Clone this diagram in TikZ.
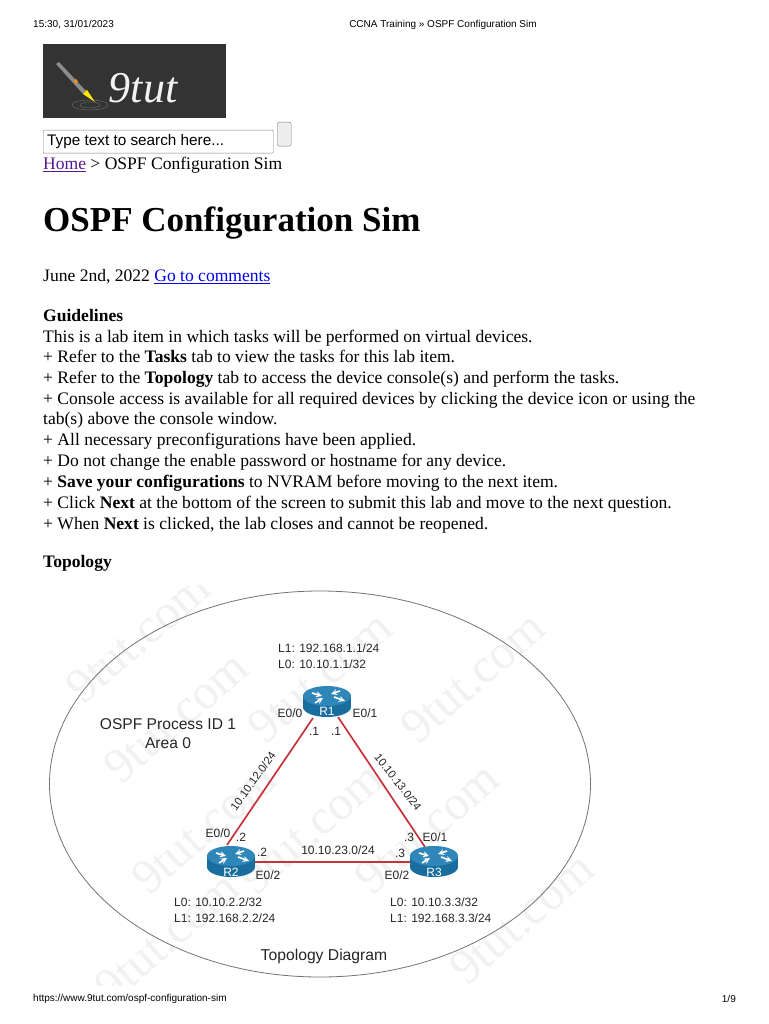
\documentclass[tikz,border=0pt]{standalone}
\usepackage{fontspec}
\setmainfont{Liberation Serif}
\newfontfamily\hdrfont{Liberation Sans}
\usetikzlibrary{shapes.geometric}
\definecolor{linkblue}{HTML}{0000EE}
\definecolor{linkpurple}{HTML}{551A8B}
\definecolor{routerblue}{HTML}{1A6E9E}
\definecolor{routertop}{HTML}{2F86B8}
\definecolor{linkred}{HTML}{C5333C}
\definecolor{logodark}{HTML}{333333}
\definecolor{markgray}{HTML}{F1F1F1}
\tikzset{
bodyline/.style={anchor=west, inner sep=0pt, text height=16.4pt, text depth=3.5pt, font=\fontsize{17.55}{20}\selectfont},
pagehdr/.style={inner sep=0pt, font=\hdrfont\fontsize{10}{12}\selectfont},
netlabel/.style={inner sep=0pt, align=left, font=\hdrfont\fontsize{12}{15.5}\selectfont, text=black!85},
portlabel/.style={inner sep=0pt, font=\hdrfont\fontsize{12}{14}\selectfont, text=black!85},
watermark/.style={inner sep=0pt, rotate=41, text=markgray, font=\fontsize{49}{52}\selectfont},
routerbox/.style={draw=none, inner sep=0pt, minimum width=48pt, minimum height=32pt},
routername/.style={inner sep=0pt, text=white, font=\hdrfont\fontsize{12}{14}\selectfont},
netline/.style={draw=linkred, line width=1.7pt},
routerflow/.style={white, line width=1.7pt, -stealth},
routericon/.pic={
  \fill[routerblue] (0,5) ellipse (24 and 10);
  \fill[routerblue] (-24,-6) rectangle (24,5);
  \fill[routertop] (0,-6) ellipse (24 and 10);
  \draw[routerflow] (-15,-9) -- (-5,-6);
  \draw[routerflow] (13,-11) -- (4,-8);
  \draw[routerflow] (-12,1) -- (-4,-4);
  \draw[routerflow] (7,-5) -- (18,-1);
}
}
\begin{document}
\begin{tikzpicture}[x=1pt, y=-1pt]
\useasboundingbox (0,0) rectangle (768,1024);
\fill[white] (0,0) rectangle (768,1024);

% page header and footer
\node (stamp) [pagehdr, anchor=west] at (33,25) {15:30, 31/01/2023};
\node (pagetitle) [pagehdr] at (443,25) {CCNA Training » OSPF Configuration Sim};
\node (pageurl) [pagehdr, anchor=west] at (33,999) {https://www.9tut.com/ospf-configuration-sim};
\node (pagenum) [pagehdr, anchor=east] at (736,999) {1/9};

% logo
\node (logo) [fill=logodark, minimum width=183pt, minimum height=74pt, inner sep=0pt, anchor=north west] at (43,44) {};
\draw[black!60, line width=0.5pt] (90,105) ellipse (18 and 5);
\draw[black!60, line width=0.5pt] (90,105) ellipse (10 and 3);
\fill[black!45] (56,64) -- (59,62) -- (86,91) -- (83,94) -- cycle;
\fill[orange!85!yellow] (74,81) -- (76,79) -- (78,81.5) -- (76,83.5) -- cycle;
\fill[yellow!90!orange] (83,94) -- (87,90) -- (95,102) -- cycle;
\node (logotext) [text=white!90!gray, inner sep=0pt, font=\itshape\fontsize{44}{46}\selectfont] at (143,88) {9tut};

% search
\node (search) [draw=gray, rounded corners=1pt, minimum width=230pt, minimum height=23pt, inner sep=0pt, anchor=north west] at (43,130) {};
\node (searchtext) [inner sep=0pt, anchor=west, font=\hdrfont\fontsize{15.3}{17}\selectfont] at (47,142) {Type text to search here...};
\node (searchbtn) [draw=gray, fill=black!7, rounded corners=2pt, minimum width=14pt, minimum height=24pt, inner sep=0pt, anchor=north west] at (277,122) {};

% text
\node (crumb) [bodyline] at (43,163) {\textcolor{linkpurple}{\underline{Home}} > OSPF Configuration Sim};
\node (heading) [anchor=west, inner sep=0pt, font=\bfseries\fontsize{35}{38}\selectfont] at (43,223) {OSPF Configuration Sim};
\node (date) [bodyline] at (43,275) {June 2nd, 2022 \textcolor{linkblue}{\underline{Go to comments}}};
\node (guide) [bodyline] at (43,315) {\textbf{Guidelines}};
\node (line1) [bodyline] at (43,336) {This is a lab item in which tasks will be performed on virtual devices.};
\node (line2) [bodyline] at (43,356.5) {+ Refer to the \textbf{Tasks} tab to view the tasks for this lab item.};
\node (line3) [bodyline] at (43,377) {+ Refer to the \textbf{Topology} tab to access the device console(s) and perform the tasks.};
\node (line4) [bodyline] at (43,398) {+ Console access is available for all required devices by clicking the device icon or using the};
\node (line5) [bodyline] at (43,418.5) {tab(s) above the console window.};
\node (line6) [bodyline] at (43,439) {+ All necessary preconfigurations have been applied.};
\node (line7) [bodyline] at (43,460) {+ Do not change the enable password or hostname for any device.};
\node (line8) [bodyline] at (43,481) {+ \textbf{Save your configurations} to NVRAM before moving to the next item.};
\node (line9) [bodyline] at (43,502) {+ Click \textbf{Next} at the bottom of the screen to submit this lab and move to the next question.};
\node (line10) [bodyline] at (43,523) {+ When \textbf{Next} is clicked, the lab closes and cannot be reopened.};
\node (topo) [bodyline] at (43,561) {\textbf{Topology}};

% watermarks
\begin{scope}
\clip (40,585) rectangle (600,985);
\foreach \wx/\wy in {138/637, 176/717, 320/677, 473/677, 204/828, 311/828, 427/828, 522/918, 167/937} {
  \node [watermark] at (\wx,\wy) {9tut.com};
}
\end{scope}

% area
\node (area) [draw=black!55, ellipse, line width=0.8pt, minimum width=541pt, minimum height=386pt, inner sep=0pt] at (320,784) {};
\node (ospf) [inner sep=0pt, align=center, font=\hdrfont\fontsize{15.6}{19}\selectfont, text=black!85] at (168,734) {OSPF Process ID 1\\Area 0};
\node (caption) [inner sep=0pt, font=\hdrfont\fontsize{15.7}{18}\selectfont, text=black!85] at (324,956) {Topology Diagram};

% routers
\node (r1) [routerbox] at (327,702) {};
\node (r2) [routerbox] at (231,862) {};
\node (r3) [routerbox] at (434,862) {};

\draw[netline] ([shift={(-14,16)}]r1.center) -- ([shift={(-4,-17)}]r2.center);
\draw[netline] ([shift={(11,15)}]r1.center) -- ([shift={(-9,-15)}]r3.center);
\draw[netline] (r2) -- (r3);

\pic at (r1.center) {routericon};
\pic at (r2.center) {routericon};
\pic at (r3.center) {routericon};
\node (r1name) [routername] at (327,711) {R1};
\node (r2name) [routername] at (231,872) {R2};
\node (r3name) [routername] at (434,872) {R3};

% router labels
\node (r1addr) [netlabel, anchor=west] at (278,656) {L1: 192.168.1.1/24\\L0: 10.10.1.1/32};
\node (r2addr) [netlabel, anchor=west] at (174,910) {L0: 10.10.2.2/32\\L1: 192.168.2.2/24};
\node (r3addr) [netlabel, anchor=west] at (390,910) {L0: 10.10.3.3/32\\L1: 192.168.3.3/24};

\node (net12) [portlabel, rotate=54, font=\hdrfont\fontsize{11.2}{14}\selectfont] at (253,781) {10.10.12.0/24};
\node (net13) [portlabel, rotate=-52, font=\hdrfont\fontsize{11.2}{14}\selectfont] at (398,782) {10.10.13.0/24};
\node (net23) [portlabel] at (338,850) {10.10.23.0/24};

\node (r1e0) [portlabel] at (290,713) {E0/0};
\node (r1e1) [portlabel] at (365,713) {E0/1};
\node (r1d0) [portlabel] at (314,731) {.1};
\node (r1d1) [portlabel] at (336,731) {.1};
\node (r2e0) [portlabel] at (218,833) {E0/0};
\node (r2d0) [portlabel] at (241,837) {.2};
\node (r2d2) [portlabel] at (262,852) {.2};
\node (r2e2) [portlabel] at (268,875) {E0/2};
\node (r3d1) [portlabel] at (409,837) {.3};
\node (r3e1) [portlabel] at (435,837) {E0/1};
\node (r3d2) [portlabel] at (400,853) {.3};
\node (r3e2) [portlabel] at (397,875) {E0/2};

\end{tikzpicture}
\end{document}
